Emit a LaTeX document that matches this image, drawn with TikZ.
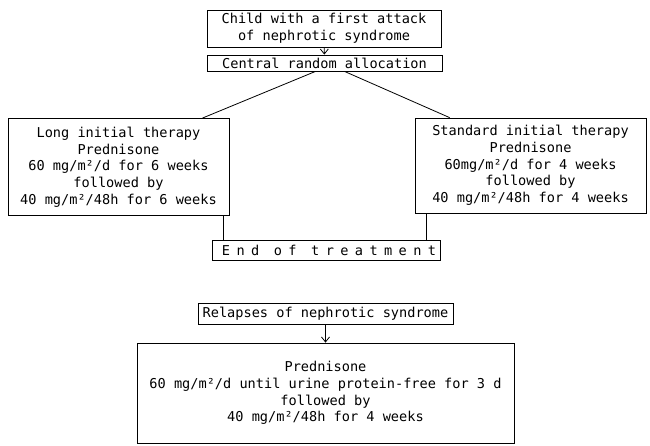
\documentclass[tikz,border=0pt]{standalone}
\usepackage{fontspec}
\setmainfont{DejaVu Sans Mono}
\usepackage{tikz}
\usetikzlibrary{arrows.meta,positioning,calc}

\tikzset{
    box/.style={draw, line width=0.8pt, rectangle, inner sep=0pt, align=center,
        font=\fontsize{13.6}{16.7}\selectfont},
    link/.style={line width=0.8pt},
    down/.style={line width=0.8pt, -{Straight Barb[length=5pt,width=8pt]}}
}

\begin{document}
\begin{tikzpicture}[x=1pt,y=-1pt]
    \useasboundingbox (0,0) rectangle (650,445);

    % entry and allocation
    \node[box, minimum width=234pt, minimum height=37pt] (child) at (324,28.5)
        {Child with a first attack\\of nephrotic syndrome};
    \node[box, minimum width=235pt, minimum height=16pt] (alloc) at (324.5,63)
        {Central random allocation};

    % the two arms
    \node[box, minimum width=221pt, minimum height=97pt] (longtx) at (118.5,167)
        {Long initial therapy\\Prednisone\\60 mg/m²/d for 6 weeks\\followed by\\40 mg/m²/48h for 6 weeks};
    \node[box, minimum width=231pt, minimum height=95pt] (stdtx) at (530.5,165.5)
        {Standard initial therapy\\Prednisone\\60mg/m²/d for 4 weeks\\followed by\\40 mg/m²/48h for 4 weeks};

    \node[box, minimum width=228pt, minimum height=20pt] (endtx) at (326,250)
        {\hspace*{6pt}\addfontfeature{LetterSpace=47}End of treatment};

    % relapses
    \node[box, minimum width=255pt, minimum height=21pt] (relapse) at (325.5,313.5)
        {Relapses of nephrotic syndrome};
    \node[box, minimum width=377pt, minimum height=100pt] (relapsetx) at (325.5,393)
        {Prednisone\\60 mg/m²/d until urine protein-free for 3 d\\followed by\\40 mg/m²/48h for 4 weeks};

    % connectors
    \draw[down] (child) -- (alloc);
    \draw[link] ([xshift=-9pt]alloc.south) -- ([xshift=-27pt]longtx.north east);
    \draw[link] ([xshift=20pt]alloc.south) -- ([xshift=35pt]stdtx.north west);
    \draw[link] ([xshift=-6pt]longtx.south east) -- ([xshift=-6pt]longtx.south east |- endtx.north);
    \draw[link] ([xshift=12pt]stdtx.south west) -- ([xshift=12pt]stdtx.south west |- endtx.north);
    \draw[down] (relapse) -- (relapsetx);
\end{tikzpicture}
\end{document}
